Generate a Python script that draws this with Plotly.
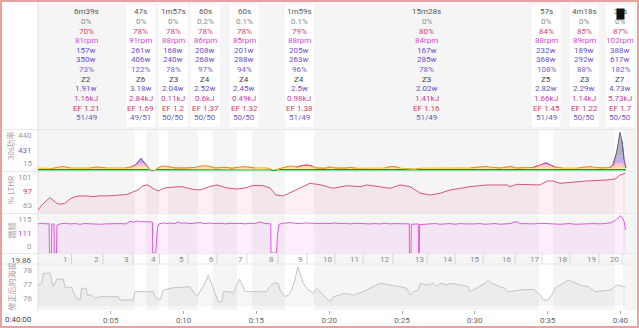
import numpy as np
import plotly.graph_objects as go

# ---------------- data ----------------
iv_start_min = [0.00, 6.65, 8.31, 10.99, 13.67, 16.96, 18.95, 34.42, 35.37, 39.67]
iv_dur_s = [399, 47, 117, 60, 60, 119, 928, 57, 258, 38]
iv_label = ["6m39s", "47s", "1m57s", "60s", "60s", "1m59s", "15m28s", "57s", "4m18s", "38s"]
iv_boxed = [False, True, True, True, True, True, False, True, True, True]
iv_pct0 = ["0%", "0%", "0%", "0.2%", "0.1%", "0.1%", "0%", "0%", "0%", "0%"]
iv_hr = [70, 78, 78, 78, 78, 79, 80, 84, 85, 87]
iv_rpm = [81, 91, 88, 86, 85, 88, 84, 88, 89, 102]
iv_avg_w = [157, 261, 168, 208, 201, 205, 167, 232, 189, 388]
iv_max_w = [350, 406, 240, 268, 288, 263, 285, 368, 292, 617]
iv_ftp = [73, 122, 78, 97, 94, 96, 78, 108, 88, 182]
iv_zone = ["Z2", "Z6", "Z3", "Z4", "Z4", "Z4", "Z3", "Z5", "Z3", "Z7"]
iv_wkg = ["1.91", "3.18", "2.04", "2.52", "2.45", "2.5", "2.02", "2.82", "2.29", "4.73"]
iv_kj = ["1.16", "2.84", "0.11", "0.6", "0.49", "0.98", "1.41", "1.66", "1.14", "5.73"]
iv_ef = ["1.21", "1.69", "1.2", "1.37", "1.32", "1.38", "1.16", "1.45", "1.22", "1.7"]
iv_lr = ["51/49", "49/51", "50/50", "50/50", "50/50", "51/49", "51/49", "51/49", "50/50", "50/50"]

band_start = [6.65, 8.31, 10.99, 13.67, 16.96, 34.42, 39.63]
band_end = [7.43, 8.93, 11.99, 14.67, 18.95, 35.37, 40.18]

power_t = [0.00, 0.48, 0.96, 1.37, 1.65, 1.92, 2.20, 2.88, 3.57, 4.05,
           4.26, 4.67, 5.29, 5.98, 6.39, 6.73, 7.07, 7.35, 7.55, 7.76,
           7.97, 8.17, 8.45, 8.72, 9.00, 9.41, 10.10, 10.78, 11.13, 11.47,
           11.81, 12.16, 12.71, 12.98, 13.32, 13.74, 14.08, 14.42, 14.90, 15.45,
           15.73, 16.00, 16.14, 16.35, 16.62, 17.10, 17.45, 17.79, 18.13, 18.48,
           18.82, 19.09, 19.71, 20.05, 20.40, 21.09, 21.43, 21.84, 22.46, 23.15,
           23.83, 24.18, 24.52, 24.86, 25.21, 25.55, 25.89, 26.24, 26.92, 27.61,
           28.30, 28.98, 29.67, 30.36, 30.77, 31.18, 31.73, 32.21, 32.49, 32.83,
           33.45, 34.00, 34.34, 34.68, 34.89, 35.16, 35.51, 35.99, 36.54, 37.09,
           37.57, 37.91, 38.26, 38.80, 39.29, 39.49, 39.70, 39.84, 39.97, 40.11,
           40.25, 40.38]
power_w = [186, 186, 175, 197, 212, 204, 186, 180, 186, 204,
           198, 186, 186, 186, 204, 241, 298, 250, 204, 102,
           95, 175, 215, 220, 204, 186, 186, 197, 220, 224,
           215, 186, 197, 197, 180, 204, 212, 204, 186, 191,
           186, 147, 95, 128, 175, 212, 220, 204, 227, 234,
           220, 186, 180, 204, 186, 182, 198, 180, 180, 180,
           186, 212, 212, 186, 167, 155, 153, 180, 186, 186,
           186, 190, 186, 204, 215, 197, 186, 204, 212, 186,
           186, 197, 227, 250, 258, 237, 204, 186, 186, 186,
           204, 212, 197, 186, 197, 234, 327, 385, 435, 400,
           290, 186]

lthr_t = [0.00, 0.27, 0.62, 0.82, 1.03, 1.30, 1.51, 1.85, 2.20, 2.54, 2.88,
          3.37, 3.78, 4.26, 4.74, 5.15, 5.63, 6.11, 6.52, 6.87,
          7.21, 7.55, 7.90, 8.24, 8.52, 8.86, 9.41, 9.89, 10.23, 10.71,
          11.13, 11.47, 11.81, 12.29, 12.98, 13.67, 14.22, 14.77, 15.45, 15.93,
          16.35, 16.83, 17.31, 18.00, 18.68, 19.37, 20.26, 21.22, 22.12, 22.60,
          23.49, 24.18, 24.86, 25.55, 26.24, 26.92, 27.61, 28.30, 29.67, 30.84,
          32.21, 32.42, 32.90, 33.79, 34.48, 34.96, 35.37, 35.85, 36.54, 37.71,
          39.08, 39.63, 39.97, 40.32]
lthr_pct = [65.8, 70.4, 75.0, 77.2, 75.0, 72.0, 71.1, 72.0, 76.0, 78.1, 78.8,
            78.8, 78.1, 79.0, 78.8, 79.0, 79.7, 80.1, 82.5, 84.3,
            88.3, 89.0, 85.7, 83.4, 85.2, 86.6, 87.1, 87.4, 86.2, 84.8,
            84.3, 86.2, 87.6, 89.0, 86.2, 85.2, 86.2, 88.5, 88.3, 86.2,
            79.7, 78.8, 82.0, 86.6, 90.5, 89.2, 85.9, 88.3, 87.4, 89.0,
            87.4, 85.9, 89.0, 87.4, 81.5, 79.7, 81.3, 84.3, 87.4, 89.0,
            89.0, 87.4, 89.6, 89.0, 89.0, 92.7, 92.7, 90.5, 91.5, 92.7,
            93.6, 94.5, 98.2, 99.8]

cad_t = [0.00, 0.27, 0.55, 0.76, 0.79, 0.93, 0.94, 1.10, 1.12, 1.27,
         1.30, 1.51, 1.85, 2.20, 2.54, 2.88, 3.23, 3.57, 3.91, 4.26,
         4.60, 4.95, 5.29, 5.63, 5.98, 6.18, 6.39, 6.59, 6.80, 7.01,
         7.21, 7.42, 7.62, 7.86, 7.88, 8.08, 8.14, 8.21, 8.31, 8.59,
         8.86, 9.13, 9.41, 9.62, 9.82, 10.10, 10.44, 10.78, 11.13, 11.47,
         11.81, 12.16, 12.50, 12.84, 13.19, 13.53, 13.87, 14.22, 14.56, 14.90,
         15.25, 15.52, 15.80, 15.99, 16.00, 16.38, 16.45, 16.55, 16.83, 17.31,
         17.65, 18.00, 18.34, 18.68, 19.02, 19.37, 19.71, 20.05, 20.40, 20.74,
         21.09, 21.43, 21.77, 22.12, 22.46, 22.80, 23.15, 23.49, 23.83, 24.18,
         24.52, 24.86, 25.21, 25.50, 25.51, 25.62, 25.64, 25.89, 26.12, 26.13,
         26.19, 26.21, 26.58, 26.92, 27.27, 27.61, 27.95, 28.30, 28.64, 28.98,
         29.33, 29.67, 30.01, 30.36, 30.70, 31.04, 31.39, 31.73, 32.07, 32.42,
         32.69, 32.90, 33.10, 33.45, 33.79, 34.13, 34.48, 34.82, 35.16, 35.51,
         35.85, 36.20, 36.54, 36.88, 37.23, 37.57, 37.91, 38.26, 38.60, 38.94,
         39.29, 39.56, 39.77, 39.90, 40.01, 40.11, 40.25, 40.35]
cad_rpm = [88, 90, 88, 89, 0, 0, 87, 88, 0, 0,
           84, 88, 90, 88, 89, 87, 89, 88, 89, 87,
           88, 89, 88, 89, 88, 93, 96, 93, 97, 94,
           96, 94, 95, 93, 0, 0, 45, 78, 88, 91,
           89, 91, 89, 94, 90, 91, 89, 90, 92, 89,
           91, 89, 90, 88, 90, 89, 90, 88, 90, 89,
           94, 90, 89, 88, 0, 0, 55, 87, 90, 92,
           90, 89, 91, 90, 91, 89, 90, 89, 91, 89,
           90, 88, 90, 89, 90, 88, 89, 88, 90, 88,
           89, 88, 89, 88, 0, 0, 87, 88, 88, 0,
           0, 86, 87, 88, 89, 87, 88, 89, 87, 89,
           88, 87, 88, 89, 87, 88, 89, 87, 88, 89,
           93, 95, 89, 88, 89, 88, 90, 89, 88, 89,
           87, 88, 89, 87, 88, 89, 88, 89, 88, 89,
           91, 96, 104, 110, 113, 108, 96, 70]

alt_t = [0.00, 0.25, 0.36, 0.82, 0.94, 1.05, 1.30, 1.74, 1.85, 2.31,
         2.42, 2.66, 2.88, 3.00, 3.30, 3.39, 3.69, 3.91, 4.26, 5.52,
         5.63, 6.55, 6.66, 7.92, 8.04, 8.38, 8.61, 8.84, 9.29, 10.44,
         10.67, 10.90, 11.13, 11.47, 11.70, 11.93, 12.16, 12.38, 12.62, 12.73,
         13.19, 13.41, 13.65, 13.83, 13.99, 14.22, 15.71, 15.82, 16.16, 16.50,
         16.62, 16.85, 16.96, 17.19, 17.42, 17.65, 17.84, 17.99, 18.22, 18.56,
         18.91, 19.14, 19.37, 19.59, 20.05, 20.28, 20.74, 20.97, 21.65, 22.34,
         22.58, 22.80, 23.49, 24.86, 25.32, 25.55, 25.78, 26.12, 26.24, 26.70,
         27.15, 27.38, 27.61, 28.07, 28.30, 29.10, 29.55, 29.67, 30.24, 30.70,
         30.93, 31.16, 31.73, 32.07, 32.30, 33.10, 34.02, 34.25, 34.48, 34.70,
         35.05, 35.28, 35.51, 36.08, 36.43, 37.23, 37.80, 38.26, 39.29, 39.75,
         40.32]
alt_m = [76.96, 77.11, 77.83, 77.83, 77.33, 76.84, 77.39, 77.39, 76.79, 76.79,
         76.47, 75.98, 75.85, 76.72, 76.72, 76.22, 76.22, 75.98, 76.10, 76.10,
         75.85, 75.85, 76.47, 76.47, 76.10, 75.85, 76.59, 76.64, 76.76, 76.84,
         76.47, 76.10, 76.47, 77.11, 77.70, 76.96, 76.35, 75.73, 75.73, 76.47,
         76.47, 76.35, 76.96, 77.39, 77.09, 76.47, 76.47, 76.72, 77.09, 77.09,
         76.59, 76.22, 76.10, 76.22, 76.59, 77.33, 78.32, 77.83, 77.09, 76.59,
         76.35, 76.72, 76.47, 76.22, 75.73, 76.10, 76.22, 76.35, 76.22, 76.47,
         76.59, 76.72, 77.09, 76.84, 76.72, 76.22, 76.47, 76.59, 77.09, 76.96,
         77.09, 76.84, 77.09, 76.96, 77.09, 76.96, 76.84, 76.47, 76.84, 77.09,
         77.33, 77.09, 76.84, 76.72, 76.47, 76.59, 76.64, 76.47, 76.22, 75.85,
         75.85, 76.22, 76.72, 77.09, 77.33, 76.96, 76.84, 76.47, 76.59, 76.96,
         76.84]

km_t = [2.30, 4.46, 6.52, 8.35, 10.30, 12.30, 14.35, 16.48, 18.47, 20.40,
        22.32, 24.38, 26.72, 28.64, 30.56, 32.76, 34.62, 36.54, 38.53, 40.11]
km_lbl = [str(i) for i in range(1, 21)]
total_km = "19.86"

tick_min = [5, 10, 15, 20, 25, 30, 35, 40]
tick_txt = ["0:05", "0:10", "0:15", "0:20", "0:25", "0:30", "0:35", "0:40"]

side_labels = [  # (text, colour, y px)
    ("440", "#999999", 135.7), ("431", "#7b5cd6", 150.7), ("15", "#999999", 163.0),
    ("101", "#999999", 177.0), ("97", "#d0406a", 191.7), ("63", "#999999", 205.0),
    ("115", "#999999", 219.0), ("111", "#d63fd6", 233.0), ("0", "#999999", 246.7),
    ("78", "#999999", 270.7), ("77", "#999999", 284.7), ("76", "#999999", 298.3),
]
axis_titles = [("30s功率", 145.5), ("% LTHR", 190.5), ("踏频", 231.0), ("修正后的海拔", 287.0)]

# power zones (style)
zone_hi = [118, 160, 193, 225, 257, 321, 5000]
zone_lo = [0, 118, 160, 193, 225, 257, 321]
zone_col = ["#1aa58a", "#12a012", "#f5c21a", "#f08a2a", "#e8487a", "#7a4fd6", "#6b6478"]
zone_alpha = [0.35, 1.0, 0.35, 0.35, 0.35, 0.45, 0.5]

# ---------------- geometry ----------------
W, H = 639, 328
X0P, X1P = 38, 636
PPM = 14.56
XMAX = (X1P - X0P) / PPM
PMAX = 440.0


def fy(p):
    return 1 - p / H


def fx(p):
    return p / W


def rgba(hx, a):
    hx = hx.lstrip("#")
    return "rgba(%d,%d,%d,%.3f)" % (int(hx[0:2], 16), int(hx[2:4], 16), int(hx[4:6], 16), a)


fig = go.Figure()

# ----- power (zone coloured, compressed scale) -----
pw = np.array(power_w, float)
for k in range(7):
    yk = (np.minimum(pw, zone_hi[k]) / PMAX) ** 3
    fig.add_trace(go.Scatter(x=power_t, y=yk, mode="lines", line=dict(width=0),
                             fill="tozeroy" if k == 0 else "tonexty",
                             fillcolor=rgba(zone_col[k], zone_alpha[k]),
                             yaxis="y", hoverinfo="skip"))
p3 = (pw / PMAX) ** 3
for k in range(7):
    inz = (pw >= zone_lo[k]) & (pw < zone_hi[k])
    ext = inz.copy()
    ext[1:] |= inz[:-1]
    ext[:-1] |= inz[1:]
    yk = np.where(ext, p3, np.nan)
    fig.add_trace(go.Scatter(x=power_t, y=yk, mode="lines",
                             line=dict(width=1, color=zone_col[k]),
                             connectgaps=False, yaxis="y", hoverinfo="skip"))

# ----- %LTHR -----
fig.add_trace(go.Scatter(x=lthr_t, y=lthr_pct, mode="lines",
                         line=dict(width=1, color="#d9567e"),
                         fill="tozeroy", fillcolor="rgba(217,86,126,0.09)",
                         yaxis="y2", hoverinfo="skip"))
# ----- cadence -----
fig.add_trace(go.Scatter(x=cad_t, y=cad_rpm, mode="lines",
                         line=dict(width=1, color="#e455e4"),
                         fill="tozeroy", fillcolor="rgba(228,85,228,0.10)",
                         yaxis="y3", hoverinfo="skip"))
# ----- altitude -----
fig.add_trace(go.Scatter(x=alt_t, y=alt_m, mode="lines",
                         line=dict(width=1, color="#c4c4c4"),
                         fill="tozeroy", fillcolor="rgba(0,0,0,0.035)",
                         yaxis="y4", hoverinfo="skip"))

shapes = []
# grey background of the chart area
shapes.append(dict(type="rect", xref="paper", yref="paper", x0=fx(X0P), x1=fx(X1P),
                   y0=fy(310), y1=fy(2), fillcolor="#f5f5f5", line=dict(width=0), layer="below"))
# white highlighted interval bands
for b0, b1 in zip(band_start, band_end):
    shapes.append(dict(type="rect", xref="x", yref="paper", x0=b0, x1=b1,
                       y0=fy(310), y1=fy(129.5), fillcolor="white", line=dict(width=0), layer="below"))
# white boxes behind interval summaries
BOXW = 30 / PPM
for s, d, bx in zip(iv_start_min, iv_dur_s, iv_boxed):
    if bx:
        c = s + d / 120.0
        shapes.append(dict(type="rect", xref="x", yref="paper", x0=c - BOXW / 2, x1=c + BOXW / 2,
                           y0=fy(127.5), y1=fy(4), fillcolor="white",
                           line=dict(width=0.5, color="#ececec"), layer="below"))
# separators
for yy in [129.5, 171.5, 213.5, 253.5, 264.0]:
    shapes.append(dict(type="line", xref="paper", yref="paper", x0=fx(1), x1=fx(X1P),
                       y0=fy(yy), y1=fy(yy), line=dict(width=1, color="#e8e8e8"), layer="below"))
shapes.append(dict(type="line", xref="paper", yref="paper", x0=fx(X0P), x1=fx(X0P),
                   y0=fy(312), y1=fy(2), line=dict(width=1, color="#e2e2e2"), layer="below"))
# km ticks
for t in km_t:
    shapes.append(dict(type="line", xref="x", yref="paper", x0=t, x1=t,
                       y0=fy(264), y1=fy(254), line=dict(width=1, color="#d6d6d6"), layer="below"))
# outer border
shapes.append(dict(type="rect", xref="paper", yref="paper", x0=fx(1), x1=fx(638),
                   y0=fy(327), y1=fy(1), line=dict(width=2, color="#e6a2a2"), layer="above"))

ann = []
row_col = ["#555555", "#8a8a8a", "#d4486e", "#d845d8", "#6b4fc6", "#6b4fc6", "#7a5cd0",
           "#444444", "#6b4fc6", "#c8409e", "#d8385c", "#6a5ac8"]
for i in range(len(iv_label)):
    c = iv_start_min[i] + iv_dur_s[i] / 120.0
    rows = [iv_label[i], iv_pct0[i], "%d%%" % iv_hr[i], "%drpm" % iv_rpm[i],
            "%dw" % iv_avg_w[i], "%dw" % iv_max_w[i], "%d%%" % iv_ftp[i], iv_zone[i],
            iv_wkg[i] + "w", iv_kj[i] + "kJ", "EF " + iv_ef[i], iv_lr[i]]
    for r, txt in enumerate(rows):
        ann.append(dict(x=c, xref="x", y=fy(11.7 + r * 9.66), yref="paper", text=txt,
                        showarrow=False, xanchor="center", yanchor="middle",
                        font=dict(size=8, color=row_col[r])))

for txt, col, yp in side_labels:
    ann.append(dict(x=fx(33.5), xref="paper", y=fy(yp), yref="paper", text=txt, showarrow=False,
                    xanchor="right", yanchor="middle", font=dict(size=8, color=col)))
for txt, yp in axis_titles:
    ann.append(dict(x=fx(10.5), xref="paper", y=fy(yp), yref="paper", text=txt, showarrow=False,
                    textangle=-90, xanchor="center", yanchor="middle",
                    font=dict(size=8, color="#a0a0a0", family="Noto Sans CJK SC, Roboto")))
ann.append(dict(x=fx(33.5), xref="paper", y=fy(260), yref="paper", text=total_km, showarrow=False,
                xanchor="right", yanchor="middle", font=dict(size=8, color="#555555")))
ann.append(dict(x=fx(33.5), xref="paper", y=fy(319.3), yref="paper", text="0:40:00", showarrow=False,
                xanchor="right", yanchor="middle", font=dict(size=8, color="#444444")))
for t, lb in zip(km_t, km_lbl):
    ann.append(dict(x=t, xref="x", y=fy(259.5), yref="paper", text=lb, showarrow=False,
                    xanchor="right", xshift=-1.5, yanchor="middle", font=dict(size=8, color="#8a8a8a")))
# small black overlay badge in the top-right corner (as in the screenshot)
ann.append(dict(x=fx(620), xref="paper", y=fy(14.5), yref="paper", text="&nbsp;&nbsp;&nbsp;",
                showarrow=False, xanchor="center", yanchor="middle", bgcolor="#111111",
                borderpad=1, font=dict(size=7, color="white")))

fig.update_layout(
    width=W, height=H, margin=dict(l=0, r=0, t=0, b=0),
    paper_bgcolor="white", plot_bgcolor="rgba(0,0,0,0)", showlegend=False,
    font=dict(family="Roboto", size=8, color="#666666"),
    xaxis=dict(domain=[fx(X0P), fx(X1P)], range=[0, XMAX], anchor="free", position=fy(309.5),
               tickmode="array", tickvals=tick_min, ticktext=tick_txt, ticks="outside",
               ticklen=3, tickcolor="#aaaaaa", tickfont=dict(size=8, color="#666666"),
               showgrid=False, zeroline=False, showline=False, fixedrange=True),
    yaxis=dict(domain=[fy(171), fy(131)], range=[0, 1], visible=False, anchor="x", fixedrange=True),
    yaxis2=dict(domain=[fy(213), fy(172)], range=[63, 101], visible=False, anchor="x", fixedrange=True),
    yaxis3=dict(domain=[fy(253), fy(215)], range=[0, 115], visible=False, anchor="x", fixedrange=True),
    yaxis4=dict(domain=[fy(306), fy(266)], range=[75.41, 78.37], visible=False, anchor="x", fixedrange=True),
    shapes=shapes, annotations=ann,
)

fig.write_html("out.html")
